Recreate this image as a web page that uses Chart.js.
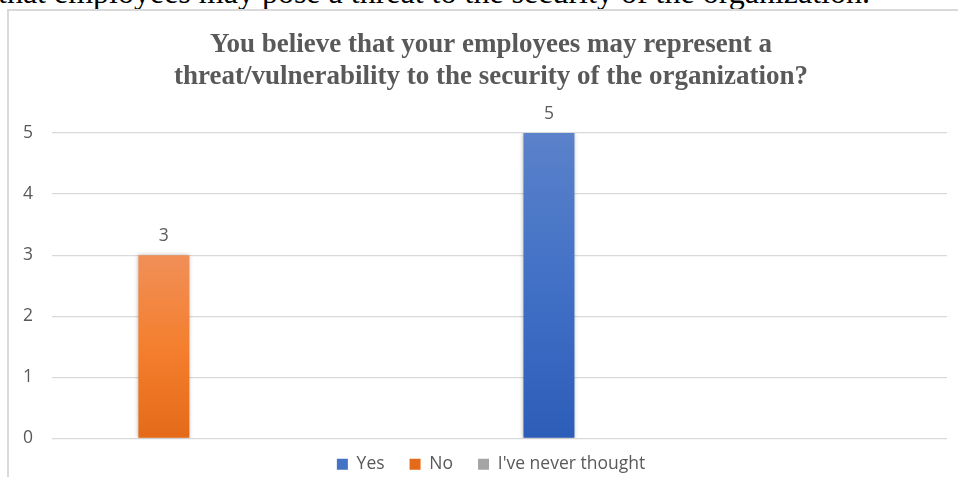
<!DOCTYPE html>
<html>
<head>
<meta charset="utf-8">
<script src="https://cdn.jsdelivr.net/npm/chart.js@4/dist/chart.umd.min.js"></script>
<style>
  html, body { margin: 0; padding: 0; background: #fff; width: 958px; height: 477px; overflow: hidden; position: relative; }
  #above { position: absolute; right: 88px; top: -24px; white-space: nowrap; font-family: 'Liberation Serif', 'Times New Roman', serif; font-size: 32px; line-height: 32px; color: #000; }
  #box { position: absolute; left: 7px; top: 9px; width: 964px; height: 480px; border: 2px solid #d9d9d9; background: #fff; }
  #c { display: block; }
</style>
</head>
<body>
<div id="above">that employees may pose a threat to the security of the organization.</div>
<div id="box"><canvas id="c" width="964" height="480"></canvas></div>
<script>
// ---- data ----
const titleLines = ['You believe that your employees may represent a', 'threat/vulnerability to the security of the organization?'];
const categories = ['', '', '', ''];
const seriesNames = ['Yes', 'No', "I've never thought"];
const yesValues = [null, null, 5, null];
const noValues = [3, null, null, null];
const neverValues = [null, null, null, null];
const yTicks = [0, 1, 2, 3, 4, 5];

const solid = ['#4472c4', '#ed7d31', '#a5a5a5'];
const grads = [
  ['#5b82ca', '#4170c6', '#2c5db8'],
  ['#f18f58', '#f47f2e', '#e46a18'],
  ['#b4b4b4', '#a5a5a5', '#969696']
];

function barFill(idx) {
  return function (ctx) {
    const chart = ctx.chart;
    const area = chart.chartArea;
    if (!area || ctx.type !== 'data' || ctx.raw == null) return solid[idx];
    const y = chart.scales.y;
    const top = y.getPixelForValue(ctx.raw);
    const bottom = y.getPixelForValue(0);
    if (!isFinite(top) || !isFinite(bottom) || top === bottom) return solid[idx];
    const g = chart.ctx.createLinearGradient(0, top, 0, bottom);
    g.addColorStop(0, grads[idx][0]);
    g.addColorStop(0.5, grads[idx][1]);
    g.addColorStop(1, grads[idx][2]);
    return g;
  };
}

Chart.defaults.font.family = "'Open Sans', 'Noto Sans', sans-serif";
Chart.defaults.color = '#595959';

const shadowPlugin = {
  id: 'barShadow',
  beforeDatasetsDraw(chart) {
    const c = chart.ctx;
    c.save();
    c.shadowColor = 'rgba(0,0,0,0.28)';
    c.shadowBlur = 4;
    c.shadowOffsetX = 0;
    c.shadowOffsetY = 0;
  },
  afterDatasetsDraw(chart) {
    chart.ctx.restore();
  }
};

const valueLabels = {
  id: 'valueLabels',
  afterDatasetsDraw(chart) {
    const c = chart.ctx;
    c.save();
    c.font = "17.5px 'Open Sans', 'Noto Sans', sans-serif";
    c.fillStyle = '#595959';
    c.textAlign = 'center';
    c.textBaseline = 'middle';
    chart.data.datasets.forEach((ds, di) => {
      const meta = chart.getDatasetMeta(di);
      if (meta.hidden) return;
      meta.data.forEach((el, i) => {
        const v = ds.data[i];
        if (v == null) return;
        c.fillText(String(v), el.x, el.y - 19);
      });
    });
    c.restore();
  }
};

const legendShift = {
  id: 'legendShift',
  afterLayout(chart) {
    const lg = chart.legend;
    if (lg) { lg.top -= 8; lg.bottom -= 8; }
  }
};

new Chart(document.getElementById('c'), {
  type: 'bar',
  data: {
    labels: categories,
    datasets: [
      { label: seriesNames[0], data: yesValues, backgroundColor: barFill(0) },
      { label: seriesNames[1], data: noValues, backgroundColor: barFill(1) },
      { label: seriesNames[2], data: neverValues, backgroundColor: barFill(2) }
    ]
  },
  options: {
    responsive: false,
    animation: false,
    categoryPercentage: 0.837,
    barPercentage: 0.817,
    layout: { padding: { left: 0, right: 0, top: 0, bottom: 0 } },
    plugins: {
      title: {
        display: true,
        text: titleLines,
        color: '#595959',
        font: { family: "'Liberation Serif', 'Times New Roman', serif", size: 27, weight: 'bold', lineHeight: 32 / 27 },
        padding: { top: 18, bottom: 40 }
      },
      legend: {
        display: true,
        position: 'bottom',
        labels: {
          boxWidth: 11,
          boxHeight: 11,
          padding: 25,
          color: '#595959',
          font: { size: 17.5 }
        }
      },
      tooltip: { enabled: false }
    },
    scales: {
      x: { display: false },
      y: {
        min: 0,
        max: 5,
        afterFit(scale) { scale.width = 43; },
        afterBuildTicks(scale) { scale.ticks = yTicks.map(v => ({ value: v })); },
        ticks: { stepSize: 1, padding: 19, color: '#595959', font: { size: 17.5 } },
        grid: { color: '#d9d9d9', lineWidth: 1.3, drawTicks: false },
        border: { display: false }
      },
      yRight: {
        type: 'linear',
        position: 'right',
        display: true,
        min: 0,
        max: 5,
        afterFit(scale) { scale.width = 26; },
        ticks: { display: false },
        grid: { display: false, drawTicks: false },
        border: { display: false }
      }
    }
  },
  plugins: [shadowPlugin, valueLabels, legendShift]
});
</script>
</body>
</html>
